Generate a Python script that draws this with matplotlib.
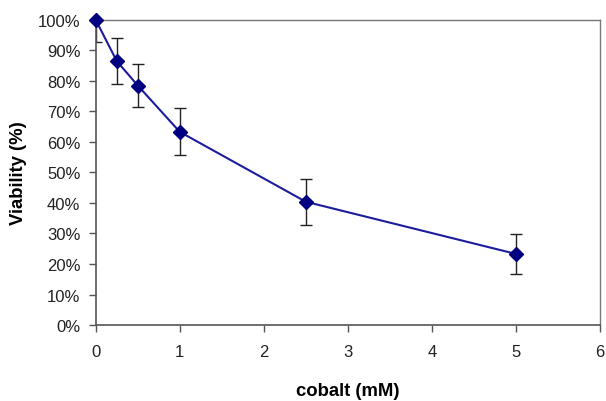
import numpy as np
import matplotlib.pyplot as plt
from matplotlib.ticker import PercentFormatter

cobalt = [0, 0.25, 0.5, 1, 2.5, 5]  # mM
viability = [100, 86.5, 78.5, 63.3, 40.4, 23.3]  # %
err = [7.2, 7.5, 7.0, 7.7, 7.5, 6.5]

plt.rcParams['font.family'] = ['Liberation Sans', 'DejaVu Sans']

fig = plt.figure(figsize=(6.06, 4.02), dpi=100)
ax = fig.add_axes([0.158, 0.189, 0.832, 0.759])

ax.errorbar(cobalt, viability, yerr=err, fmt='none', ecolor='#222222',
            elinewidth=1.0, capsize=4, capthick=1.0, zorder=2)
ax.plot(cobalt, viability, color='#1c1c9c', lw=1.5, marker='D', ms=7,
        mfc='#000080', mec='#000080', zorder=3, clip_on=False)

ax.set_xlim(0, 6)
ax.set_ylim(0, 100)
ax.set_xticks(np.arange(0, 7, 1))
ax.set_yticks(np.arange(0, 101, 10))
ax.yaxis.set_major_formatter(PercentFormatter(decimals=0))

for s in ['left', 'bottom']:
    ax.spines[s].set_color('#555555')
    ax.spines[s].set_linewidth(1.2)
for s in ['top', 'right']:
    ax.spines[s].set_color('#777777')
    ax.spines[s].set_linewidth(1.0)

ax.tick_params(direction='out', length=5, width=1, color='#555555',
               labelsize=12, labelcolor='#222222')
ax.tick_params(axis='x', pad=9)
ax.tick_params(axis='y', pad=6)

ax.set_xlabel('cobalt (mM)', fontsize=13.3, fontweight='bold', labelpad=16)
ax.set_ylabel('Viability (%)', fontsize=13.3, fontweight='bold', labelpad=8)

plt.savefig('out.png', dpi=100)
